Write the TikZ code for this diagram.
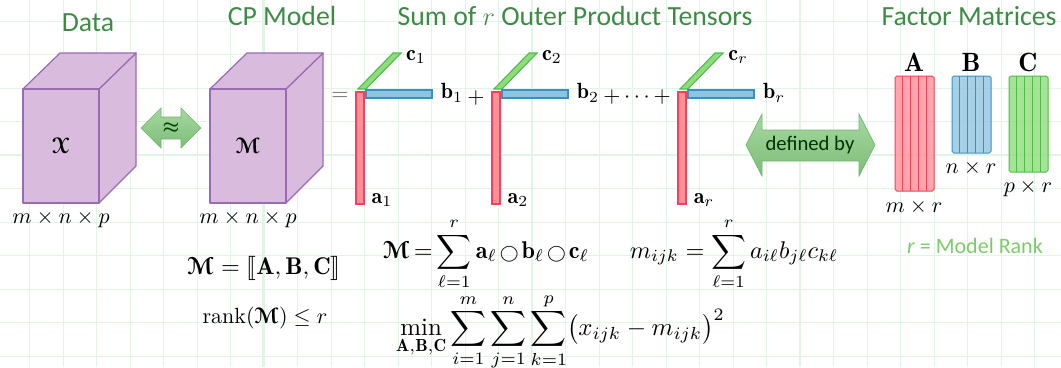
\documentclass[tikz,border=0pt]{standalone}
\usepackage{amsmath, amssymb, stmaryrd}
\usepackage{eucal}
\usepackage{fontspec}
\setsansfont{Carlito}
\usetikzlibrary{arrows.meta}
\definecolor{gridline}{HTML}{E0F5E6}
\definecolor{titlegreen}{HTML}{3F8A47}
\definecolor{rankgreen}{HTML}{7CCB6A}
\definecolor{cubefill}{HTML}{D9BBDD}
\definecolor{cubeline}{HTML}{9A6BB5}
\definecolor{redfill}{HTML}{FF9098}
\definecolor{redline}{HTML}{F53F5B}
\definecolor{bluefill}{HTML}{8FC4E0}
\definecolor{blueline}{HTML}{3A8FC6}
\definecolor{greenfill}{HTML}{8FDC7C}
\definecolor{greenline}{HTML}{4FBB4A}
\definecolor{arrowtop}{HTML}{A6D8A0}
\definecolor{arrowbottom}{HTML}{7DBD78}
\definecolor{arrowline}{HTML}{72B56E}
\newcommand{\calX}{\boldsymbol{\mathcal{X}}}
\newcommand{\calM}{\boldsymbol{\mathcal{M}}}
\tikzset{
	title/.style={font=\sffamily\fontsize{12.6}{15}\selectfont, text=titlegreen},
	cubeface/.style={draw=cubeline, fill=cubefill, line width=.55pt, line join=round},
	redbar/.style={draw=redline, fill=redfill, line width=.5pt},
	bluebar/.style={draw=blueline, fill=bluefill, line width=.5pt},
	greenbar/.style={draw=greenline, fill=greenfill, line width=.5pt},
	matline/.style={line width=.45pt, rounded corners=.8pt, fill opacity=.8},
	bigarrow/.style={draw=arrowline, line width=.3pt, top color=arrowtop, bottom color=arrowbottom},
	eqn/.style={inner sep=0pt, transform shape, scale=1.1},
}

\begin{document}
\begin{tikzpicture}[x=.4545pt, y=-.4545pt]
		\useasboundingbox (0,0) rectangle (1061,367);
		
		% Background grid
		\foreach \gx in {-4,29.5,...,1061} \draw[gridline, line width=.35pt] (\gx,0) -- (\gx,367);
		\foreach \gy in {21,54.5,...,367} \draw[gridline, line width=.35pt] (0,\gy) -- (1061,\gy);
		\foreach \gx in {263,531.5,800} \draw[gridline, line width=.8pt] (\gx,0) -- (\gx,367);
		\draw[gridline, line width=.8pt] (0,155) -- (1061,155);
		
		% Column titles
		\node[title] (dataTitle) at (88,23) {Data};
		\node[title] (modelTitle) at (282,16) {CP Model};
		\node[title] (sumTitle) at (575,16) {Sum of $r$ Outer Product Tensors};
		\node[title] (factorTitle) at (969,16) {Factor Matrices};
		
		% The data cube and the model cube
		\foreach \cx in {23,210} {
			\draw[cubeface] (\cx+76,89) -- (\cx+113,53) -- (\cx+113,166) -- (\cx+76,203) -- cycle;
			\draw[cubeface] (\cx,89) -- (\cx+37,53) -- (\cx+113,53) -- (\cx+76,89) -- cycle;
			\draw[cubeface] (\cx,89) rectangle (\cx+76,203);
		}
		\node (dataSym) at (61,146) {$\calX$};
		\node (modelSym) at (248,146) {$\calM$};
		\node (dataSize) at (61,219) {$m \times n \times p$};
		\node (modelSize) at (248,219) {$m \times n \times p$};
		
		% Arrow between data and model
		\draw[bigarrow] (141,128) -- (161,108) -- (161,117) -- (181,117) -- (181,108) -- (201,128)
			-- (181,148) -- (181,139) -- (161,139) -- (161,148) -- cycle;
		\node[text=black!75!green, font=\footnotesize] (approxSym) at (171,128) {$\boldsymbol{\approx}$};
		
		\node[text=black!60] (eqSign) at (340,96) {$=$};
		
		% The outer product terms
		\foreach \bx in {356,492,678} {
			\draw[greenbar] (\bx+2,89) -- (\bx+37,53) -- (\bx+45,53) -- (\bx+10,89) -- cycle;
			\draw[bluebar] (\bx+10,90) rectangle (\bx+76,98);
			\draw[redbar] (\bx,92) rectangle (\bx+8,204);
		}
		\node (a1) at (382,200) {$\mathbf{a}_1$};
		\node (b1) at (452,93) {$\mathbf{b}_1$};
		\node (c1) at (416,57) {$\mathbf{c}_1$};
		\node (plusOne) at (476,98) {$+$};
		\node (a2) at (518,200) {$\mathbf{a}_2$};
		\node (b2) at (588,93) {$\mathbf{b}_2$};
		\node (c2) at (552,57) {$\mathbf{c}_2$};
		\node (plusDots) at (637,97) {$+\cdots+$};
		\node (ar) at (704,200) {$\mathbf{a}_r$};
		\node (br) at (774,93) {$\mathbf{b}_r$};
		\node (cr) at (738,57) {$\mathbf{c}_r$};
		
		% Arrow between terms and factor matrices
		\draw[bigarrow] (746,145) -- (762,114) -- (762,130) -- (859,130) -- (859,114) -- (875,145)
			-- (859,176) -- (859,161) -- (762,161) -- (762,176) -- cycle;
		\node[font=\sffamily\fontsize{9.4}{11}\selectfont, text=black!80!green] (definedBy) at (810,145) {defined by};
		
		% Factor matrices
		\foreach \mx/\my/\mstyle/\mline in {895/191/redbar/redline,952/153/bluebar/blueline,1009/172/greenbar/greenline} {
			\draw[\mstyle, matline] (\mx,76) rectangle (\mx+39,\my);
			\foreach \k in {1,2,3,4} \draw[\mline, line width=.45pt] (\mx+7.8*\k,76) -- (\mx+7.8*\k,\my);
		}
		\node[font=\large] (matA) at (914,62) {$\mathbf{A}$};
		\node[font=\large] (matB) at (971,62) {$\mathbf{B}$};
		\node[font=\large] (matC) at (1028,62) {$\mathbf{C}$};
		\node (sizeA) at (914,207) {$m \times r$};
		\node (sizeB) at (971,168) {$n \times r$};
		\node (sizeC) at (1028,188) {$p \times r$};
		\node[font=\sffamily, text=rankgreen] (rankNote) at (975,246) {\textit{r} = Model Rank};
		
		% Equations
		\node[eqn] (kruskal) at (264,268) {$\calM = \llbracket \mathbf{A}, \mathbf{B}, \mathbf{C} \rrbracket$};
		\node[inner sep=0pt] (rankEq) at (265,318) {$\operatorname{rank}(\calM) \leq r$};
		\node[eqn] (modelEq) at (486,254) {\medmuskip=2mu\thickmuskip=3mu$\displaystyle \calM = \sum_{\ell=1}^{r} \mathbf{a}_\ell \mathbin{\scriptstyle\bigcirc} \mathbf{b}_\ell \mathbin{\scriptstyle\bigcirc} \mathbf{c}_\ell$};
		\node[eqn] (entryEq) at (734,254) {$\displaystyle m_{ijk} = \sum_{\ell=1}^{r} a_{i\ell} b_{j\ell} c_{k\ell}$};
		\node[eqn, scale=1.03] (minEq) at (560.5,332) {$\displaystyle \min_{\mathbf{A},\mathbf{B},\mathbf{C}} \sum_{i=1}^{m} \sum_{j=1}^{n} \sum_{k=1}^{p} \bigl(x_{ijk} - m_{ijk}\bigr)^2$};
		
	\end{tikzpicture}
\end{document}
